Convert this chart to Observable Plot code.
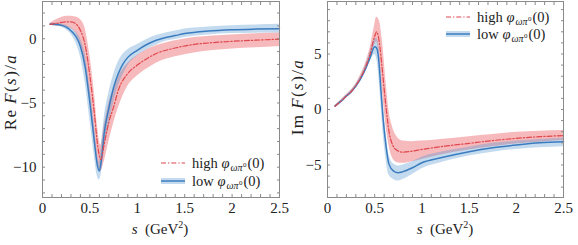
<!DOCTYPE html>
<html><head><meta charset="utf-8">
<script src="https://cdn.jsdelivr.net/npm/d3@7"></script>
<script src="https://cdn.jsdelivr.net/npm/@observablehq/plot@0.6"></script>
<style>
body{margin:0;background:#fff;}
#wrap{position:relative;width:578px;height:245px;font-family:"Liberation Serif",serif;color:#222;overflow:hidden;}
.panel{position:absolute;top:0;}
.lab{position:absolute;font-size:15px;white-space:nowrap;line-height:1;}
.ylab{position:absolute;font-size:17px;letter-spacing:1.4px;white-space:nowrap;line-height:1;transform:translate(-50%,-50%) rotate(-90deg);}
.xlab{transform:translate(-50%,-50%);}
.leg{position:absolute;font-size:14.5px;white-space:nowrap;line-height:1;transform:translateY(-50%);}
.sub{font-size:10px;position:relative;top:3px;margin-left:1px;}
.sup0{font-size:7px;position:relative;top:-4px;margin-left:0.5px;margin-right:1px;}
.e{font-size:10px;position:relative;top:-6px;}
</style></head><body><div id="wrap"></div>
<script>
// ---------- Left panel: Re F(s)/a ----------
const reLowS  = [0.08,0.15,0.2,0.25,0.3,0.35,0.4,0.45,0.5,0.55,0.575,0.6,0.625,0.65,0.7,0.75,0.8,0.85,0.9,1.0,1.1,1.2,1.3,1.4,1.5,1.75,2.0,2.25,2.5];
const reLow   = [1.12,1.1,1.04,0.9,0.62,0.2,-0.6,-2.2,-5.0,-8.2,-9.7,-10.3,-9.2,-7.4,-5.4,-3.8,-2.7,-1.95,-1.45,-0.9,-0.45,-0.12,0.1,0.25,0.4,0.6,0.7,0.75,0.78];
const reLowLo = [1.05,1.0,0.9,0.7,0.35,-0.3,-1.4,-3.4,-6.3,-9.3,-10.6,-11.0,-10.3,-8.8,-6.8,-5.0,-3.7,-2.8,-2.1,-1.35,-0.85,-0.5,-0.2,-0.05,0.1,0.3,0.4,0.43,0.44];
const reLowHi = [1.2,1.2,1.15,1.05,0.85,0.55,0.0,-1.2,-3.8,-7.0,-8.7,-9.6,-8.0,-6.2,-4.2,-2.8,-1.8,-1.2,-0.85,-0.45,-0.05,0.25,0.45,0.6,0.75,0.92,1.02,1.08,1.12];

const reHighS  = [0.08,0.15,0.2,0.25,0.3,0.35,0.4,0.45,0.5,0.55,0.58,0.615,0.65,0.7,0.75,0.8,0.9,1.0,1.1,1.2,1.4,1.6,1.8,2.0,2.25,2.5];
const reHigh   = [1.12,1.2,1.27,1.32,1.32,1.17,0.65,-0.5,-2.9,-6.0,-8.2,-9.4,-8.2,-6.5,-5.3,-4.0,-2.7,-2.05,-1.55,-1.15,-0.72,-0.44,-0.3,-0.2,-0.11,-0.03];
const reHighLo = [1.05,0.98,0.98,0.92,0.8,0.45,-0.5,-2.0,-4.8,-7.8,-9.5,-10.3,-9.6,-8.0,-6.6,-5.4,-3.7,-2.9,-2.35,-1.9,-1.4,-1.1,-0.92,-0.8,-0.7,-0.6];
const reHighHi = [1.2,1.5,1.65,1.75,1.75,1.7,1.5,0.8,-1.3,-4.4,-6.8,-8.3,-6.8,-5.0,-4.0,-3.0,-1.9,-1.3,-0.85,-0.55,-0.15,0.1,0.22,0.3,0.38,0.44];

// ---------- Right panel: Im F(s)/a ----------
const imLowS  = [0.08,0.15,0.2,0.25,0.3,0.35,0.4,0.45,0.5,0.52,0.54,0.565,0.59,0.62,0.65,0.7,0.75,0.8,0.9,1.0,1.2,1.5,1.75,2.0,2.25,2.5];
const imLow   = [0.3,0.8,1.2,1.58,2.1,2.76,3.6,4.65,5.65,5.55,4.7,1.9,-0.9,-3.3,-4.9,-5.55,-5.7,-5.6,-5.25,-4.8,-4.35,-3.8,-3.45,-3.2,-3.0,-2.9];
const imLowLo = [0.25,0.7,1.05,1.45,1.95,2.55,3.3,4.25,4.95,4.6,3.3,0.6,-2.2,-4.5,-5.9,-6.3,-6.45,-6.3,-5.85,-5.35,-4.8,-4.2,-3.85,-3.6,-3.45,-3.35];
const imLowHi = [0.35,0.9,1.3,1.7,2.25,2.95,3.9,5.15,6.35,6.4,5.9,3.3,0.4,-2.0,-4.0,-4.9,-5.1,-5.0,-4.7,-4.3,-3.85,-3.4,-3.05,-2.85,-2.7,-2.6];

const imHighS  = [0.08,0.15,0.2,0.25,0.3,0.35,0.4,0.45,0.5,0.52,0.55,0.58,0.62,0.65,0.69,0.74,0.8,0.9,1.0,1.2,1.5,1.75,2.0,2.25,2.5];
const imHigh   = [0.3,0.8,1.2,1.6,2.15,2.85,3.75,4.95,6.6,7.0,6.0,3.6,0.2,-1.9,-3.2,-3.7,-3.85,-3.75,-3.6,-3.35,-3.05,-2.8,-2.6,-2.45,-2.35];
const imHighLo = [0.25,0.7,1.08,1.48,2.0,2.65,3.45,4.4,5.8,6.1,4.6,1.8,-1.5,-3.2,-4.4,-4.8,-4.85,-4.7,-4.5,-4.1,-3.65,-3.35,-3.1,-2.95,-2.8];
const imHighHi = [0.35,0.9,1.32,1.75,2.3,3.1,4.1,5.5,7.6,8.3,8.0,6.3,2.5,0.0,-1.6,-2.5,-2.85,-2.9,-2.85,-2.7,-2.45,-2.25,-2.05,-1.95,-1.9];

// ---------- axes ----------
const xMajor = [0, 0.5, 1, 1.5, 2, 2.5];
const xMinor = d3.range(0, 26).map(i => i / 10);
const reYMajor = [0, -5, -10];
const reYMinor = d3.range(-12, 3);
const imYMajor = [-5, 0, 5];
const imYMinor = d3.range(-7, 10);

const redLine = "#e0474c", redFill = "#e8474f";
const blueLine = "#3a7cbf", blueFill = "#4b93cf";

function rows(s, y, lo, hi) { return s.map((d, i) => ({s: d, y: y[i], lo: lo[i], hi: hi[i]})); }

function panel({yDomain, yMajor, yMinor, low, high, width, marginLeft, marginRight}) {
  const fmt = d => d < 0 ? "\u2212" + Math.abs(d) : String(d);
  const tickStroke = "#8a8a8a";
  return Plot.plot({
    width, height: 245, marginLeft, marginRight, marginTop: 1, marginBottom: 48,
    x: {domain: [0, 2.5]}, y: {domain: yDomain},
    style: {fontFamily: "Liberation Serif, serif", fontSize: "15px", color: "#222", background: "transparent"},
    marks: [
      Plot.areaY(high, {x: "s", y1: "lo", y2: "hi", fill: redFill, fillOpacity: 0.38, curve: "monotone-x"}),
      Plot.areaY(low, {x: "s", y1: "lo", y2: "hi", fill: blueFill, fillOpacity: 0.33, curve: "monotone-x"}),
      Plot.line(low, {x: "s", y: "y", stroke: blueLine, strokeWidth: 1.5, curve: "monotone-x"}),
      Plot.line(high, {x: "s", y: "y", stroke: redLine, strokeWidth: 1.2, strokeDasharray: "5,2,1.3,2", curve: "monotone-x"}),
      Plot.frame({stroke: "#8a8a8a", strokeWidth: 1}),
      Plot.axisX({anchor: "bottom", ticks: xMinor, tickSize: 3, dy: -3, tickFormat: () => "", stroke: tickStroke, label: null}),
      Plot.axisX({anchor: "top", ticks: xMinor, tickSize: 3, dy: 3, tickFormat: () => "", stroke: tickStroke, label: null}),
      Plot.axisY({anchor: "left", ticks: yMinor, tickSize: 3, dx: 3, tickFormat: () => "", stroke: tickStroke, label: null}),
      Plot.axisY({anchor: "right", ticks: yMinor, tickSize: 3, dx: -3, tickFormat: () => "", stroke: tickStroke, label: null}),
      Plot.axisX({anchor: "bottom", ticks: xMajor, tickSize: 0, tickPadding: 5, tickFormat: fmt, fontSize: 15, fill: "#222", label: null}),
      Plot.axisY({anchor: "left", ticks: yMajor, tickSize: 0, tickPadding: 6, tickFormat: fmt, fontSize: 15, fill: "#222", label: null})
    ]
  });
}

const wrap = document.getElementById("wrap");
const p1 = panel({yDomain: [-12.36, 2.9], yMajor: reYMajor, yMinor: reYMinor,
  low: rows(reLowS, reLow, reLowLo, reLowHi), high: rows(reHighS, reHigh, reHighLo, reHighHi),
  width: 289, marginLeft: 42, marginRight: 10});
p1.classList.add("panel"); p1.style.left = "0px";
wrap.appendChild(p1);
const p2 = panel({yDomain: [-7.93, 9.73], yMajor: imYMajor, yMinor: imYMinor,
  low: rows(imLowS, imLow, imLowLo, imLowHi), high: rows(imHighS, imHigh, imHighLo, imHighHi),
  width: 289, marginLeft: 38, marginRight: 15});
p2.classList.add("panel"); p2.style.left = "289px";
wrap.appendChild(p2);

function addHTML(html) { wrap.insertAdjacentHTML("beforeend", html); }
const phi = `<i>φ</i><span class="sub"><i>ωπ</i><span class="sup0">0</span></span>(0)`;
const legendLabels = ["high&nbsp;" + phi, "low&nbsp;" + phi];
function legend(x, y1, y2) {
  addHTML(`<svg style="position:absolute;left:${x}px;top:${y1-5}px" width="26" height="10"><line x1="0" x2="24" y1="5" y2="5" stroke="${redLine}" stroke-width="1.2" stroke-dasharray="5,2,1.3,2"/></svg>`);
  addHTML(`<div class="leg" style="left:${x+31}px;top:${y1}px">${legendLabels[0]}</div>`);
  addHTML(`<svg style="position:absolute;left:${x}px;top:${y2-5}px" width="26" height="10"><rect x="0" y="2" width="24" height="6" fill="${blueFill}" fill-opacity="0.33"/><line x1="0" x2="24" y1="5" y2="5" stroke="${blueLine}" stroke-width="1.5"/></svg>`);
  addHTML(`<div class="leg" style="left:${x+31}px;top:${y2}px">${legendLabels[1]}</div>`);
}
legend(161, 163, 181);
legend(446, 17, 34);

const xTitle = `<i>s</i>&nbsp;&nbsp;(GeV<span class="e">2</span>)`;
addHTML(`<div class="lab xlab" style="left:160px;top:229px">${xTitle}</div>`);
addHTML(`<div class="lab xlab" style="left:445px;top:229px">${xTitle}</div>`);
addHTML(`<div class="ylab" style="left:10px;top:92px">Re&thinsp;<i>F</i>(<i>s</i>)/<i>a</i></div>`);
addHTML(`<div class="ylab" style="left:297px;top:97px">Im&thinsp;<i>F</i>(<i>s</i>)/<i>a</i></div>`);
</script>
</body></html>
